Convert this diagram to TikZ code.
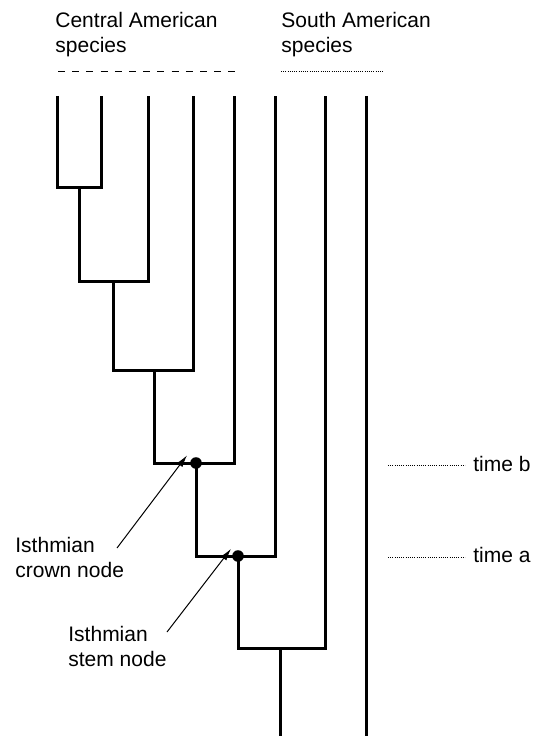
\documentclass[tikz,border=0pt]{standalone}
\usepackage{fontspec}
\setmainfont{Liberation Sans}
\usetikzlibrary{arrows.meta,positioning}

\begin{document}
\begin{tikzpicture}[x=0.5pt, y=-0.5pt,
      every node/.append style={font=\fontsize{10.5}{12.5}\selectfont, inner sep=0pt},
      branch/.style={line width=1.5pt},
      lbl/.style={anchor=base west, align=left},
      cadash/.style={line width=0.5pt, dash pattern=on 3.5pt off 3.6pt},
      dotline/.style={line width=0.5pt, dash pattern=on 0.5pt off 0.6pt},
      ptr/.style={line width=0.5pt, -{Latex[length=6pt,width=3.4pt]}}]
    \useasboundingbox (0,0) rectangle (534,738);
    \coordinate (t1) at (57,96);
    \coordinate (t2) at (101,96);
    \coordinate (t3) at (148,96);
    \coordinate (t4) at (193,96);
    \coordinate (t5) at (234,96);
    \coordinate (t6) at (275,96);
    \coordinate (t7) at (325,96);
    \coordinate (t8) at (366,96);
    \coordinate (n1) at (79,187);
    \coordinate (n2) at (113,281);
    \coordinate (n3) at (154,370);
    \coordinate (crown) at (196,463);
    \coordinate (stem) at (238,556);
    \coordinate (n6) at (280,648);
    \coordinate (root) at (280,736);
    \coordinate (b8) at (366,736);
    \draw[branch] (t1) |- (n1) -| (t2);
    \draw[branch] (n1) |- (n2) -| (t3);
    \draw[branch] (n2) |- (n3) -| (t4);
    \draw[branch] (n3) |- (crown) -| (t5);
    \draw[branch] (crown) |- (stem) -| (t6);
    \draw[branch] (stem) |- (n6) -| (t7);
    \draw[branch] (n6) -- (root);
    \draw[branch] (t8) -- (b8);
    \fill (crown) circle[radius=2.9pt];
    \fill (stem) circle[radius=2.9pt];
    \node[lbl] (cam) at (55,53) {Central American\\species};
    \node[lbl] (sam) at (281,53) {South American\\species};
    \coordinate (ca1) at (58,72);
    \coordinate (ca2) at (235,72);
    \coordinate (sa1) at (281,72);
    \coordinate (sa2) at (384,72);
    \draw[cadash] (ca1) -- (ca2);
    \draw[dotline] (sa1) -- (sa2);
    \node[lbl] (tb) at (473,471) {time b};
    \node[lbl] (ta) at (473,562) {time a};
    \coordinate (tb0) at (388,465);
    \coordinate (ta0) at (388,557);
    \draw[dotline] (tb0) -- ([xshift=-4pt]tb0 -| tb.west);
    \draw[dotline] (ta0) -- ([xshift=-4pt]ta0 -| ta.west);
    \node[lbl] (crownlbl) at (15,577) {Isthmian\\crown node};
    \node[lbl] (stemlbl) at (68,666) {Isthmian\\stem node};
    \coordinate (cp) at (117,548);
    \coordinate (sp) at (167,632);
    \draw[ptr] (cp) -- ([shift={(-4.5pt,3.8pt)}]crown);
    \draw[ptr] (sp) -- ([shift={(-3.5pt,3.6pt)}]stem);
  \end{tikzpicture}
\end{document}
